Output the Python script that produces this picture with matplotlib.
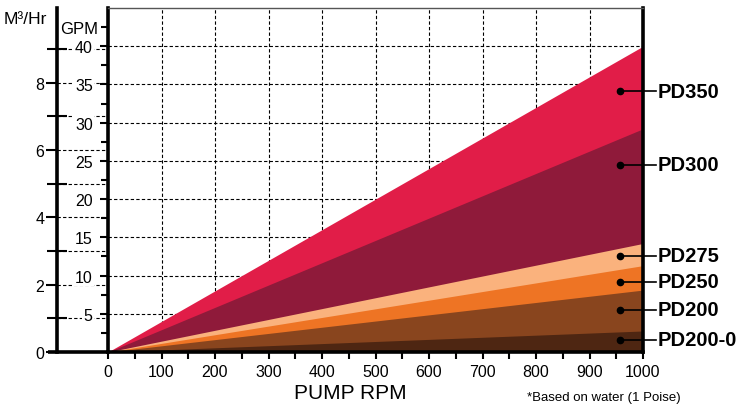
import matplotlib
matplotlib.use("Agg")
import matplotlib.pyplot as plt
import matplotlib.transforms as mtransforms
import numpy as np

plt.rcParams['font.family'] = ['Liberation Sans', 'DejaVu Sans']

# ---- data ----
models = ["PD350", "PD300", "PD275", "PD250", "PD200", "PD200-0"]
gpm_at_1000 = [40.0, 29.2, 14.2, 11.3, 8.1, 2.75]   # flow (GPM) at 1000 RPM
colors = ["#E11D48", "#8F1A3A", "#FAB27D", "#EE7424", "#89451E", "#4E2612"]
label_gpm = [34.1, 24.5, 12.6, 9.2, 5.5, 1.6]       # where each label dot sits
label_rpm = 957
rpm = [0, 1000]
x_ticks = list(range(0, 1001, 100))
gpm_ticks = list(range(0, 41, 5))
m3_ticks = [0, 2, 4, 6, 8]
GPM_TO_M3 = 0.22712

fig = plt.figure(figsize=(7.39, 4.06), dpi=100)
W, H = 739, 406
ax = fig.add_axes([108 / W, (H - 353) / H, 535 / W, (353 - 9) / H])
ax.set_xlim(0, 1000)
ax.set_ylim(0, 45)
ax.set_axisbelow(True)

# filled bands
for name, top, c in zip(models, gpm_at_1000, colors):
    ax.fill_between(rpm, [0, 0], [0, top], color=c, lw=0, zorder=1)

# grid
for g in gpm_ticks[1:]:
    ax.axhline(g, color="black", lw=0.8, ls=(0, (3, 2)), zorder=0.3)
for xv in x_ticks[1:-1]:
    ax.axvline(xv, color="black", lw=0.8, ls=(0, (3, 2)), zorder=0.3)

# spines
ax.spines['left'].set_linewidth(2.6)
ax.spines['bottom'].set_linewidth(2.6)
ax.spines['right'].set_linewidth(2.6)
ax.spines['top'].set_linewidth(1.0)
ax.spines['top'].set_color("#555555")
for s in ax.spines.values():
    s.set_zorder(3)

# x axis
ax.set_xticks(x_ticks)
ax.set_xticks(list(range(50, 1000, 100)), minor=True)
ax.tick_params(axis='x', which='both', direction='out', length=5, width=1.5,
               labelsize=11.5, pad=4)
ax.set_xlabel("PUMP RPM", fontsize=15)
ax.xaxis.set_label_coords((350 - 108) / 535, -(384 - 353) / 344)

# GPM axis
ax.set_yticks(gpm_ticks)
ax.set_yticks([g + 2.5 for g in gpm_ticks[:-1]] + [42.5], minor=True)
ax.tick_params(axis='y', which='major', direction='out', length=6, width=1.5,
               labelsize=11.5, pad=5)
ax.tick_params(axis='y', which='minor', direction='out', length=5, width=1.5)
ax.set_yticklabels([str(g) if g > 0 else "" for g in gpm_ticks])
for lab in ax.get_yticklabels():
    lab.set_bbox(dict(facecolor="white", edgecolor="none", pad=1.0))

# M3/Hr axis
offset = -51 / 535
sec = ax.secondary_yaxis(offset, functions=(lambda g: g * GPM_TO_M3,
                                            lambda m: m / GPM_TO_M3))
sec.set_yticks(m3_ticks)
sec.set_yticks([1, 3, 5, 7, 9], minor=True)
sec.tick_params(axis='y', which='major', direction='out', length=8, width=1.5,
                labelsize=11.5, pad=1)
sec.tick_params(axis='y', which='minor', direction='inout', length=14, width=1.5)
sec.spines['left'].set_linewidth(2.6)

trans = mtransforms.blended_transform_factory(ax.transAxes, ax.transData)
for m in range(1, 10):
    ax.plot([offset, 0], [m / GPM_TO_M3] * 2, color="black", lw=0.8,
            ls=(0, (3, 2)), transform=trans, clip_on=False, zorder=0.2)
# bottom line extension between the two vertical axes
ax.plot([offset - 0.017, 0], [0, 0], color="black", lw=2.6, transform=trans,
        clip_on=False, zorder=3, solid_capstyle='butt')

fig.text(4 / W, 1 - 20 / H, "M³/Hr", fontsize=12.5, va='center', ha='left')
fig.text(60 / W, 1 - 29 / H, "GPM", fontsize=12, va='center', ha='left')

# labels on right
for name, gy in zip(models, label_gpm):
    ax.plot([label_rpm], [gy], 'o', color="black", ms=4.5, zorder=4, clip_on=False)
    ax.plot([label_rpm, 1025], [gy, gy], color="black", lw=1.2, zorder=4,
            clip_on=False)
    ax.text(1027, gy, name, fontsize=14.5, fontweight='bold', va='center',
            ha='left', clip_on=False)

fig.text(527 / W, 1 - 392 / H, "*Based on water (1 Poise)", fontsize=9.5,
         va='top', ha='left')

fig.savefig("out.png", dpi=100)
